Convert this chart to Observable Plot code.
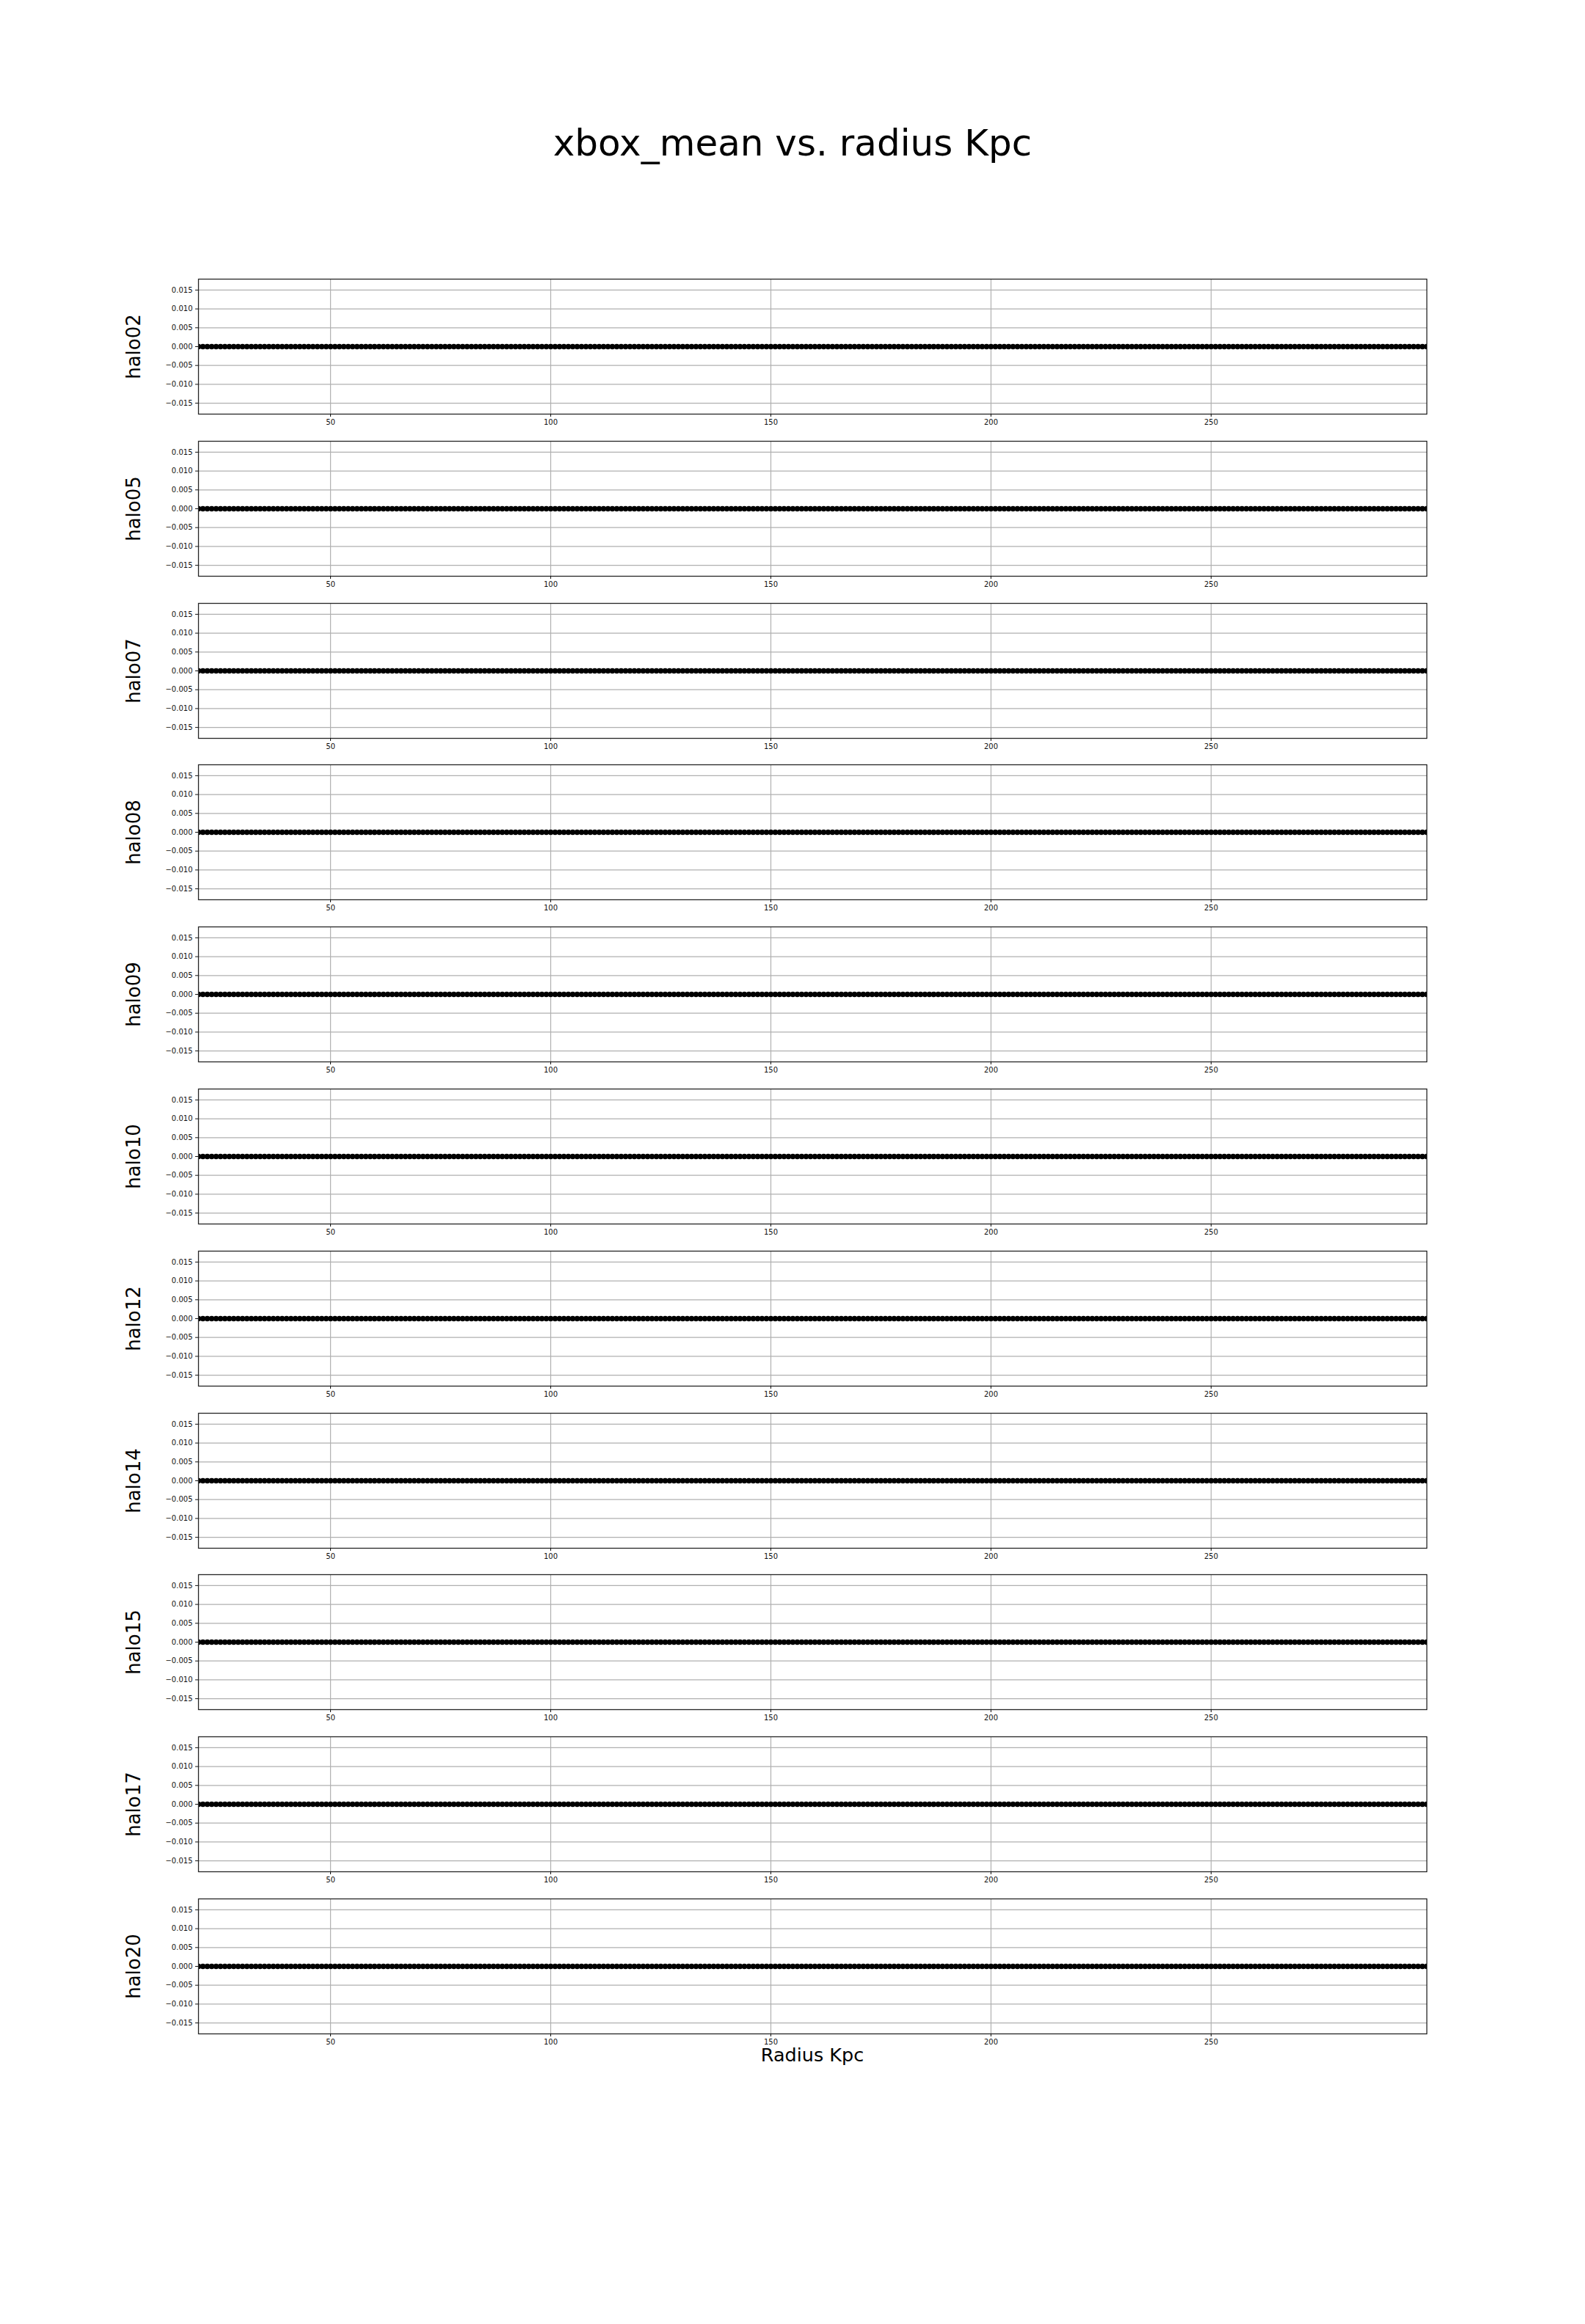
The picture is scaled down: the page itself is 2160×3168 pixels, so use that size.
<!DOCTYPE html>
<html>
<head>
<meta charset="utf-8">
<script src="https://cdn.jsdelivr.net/npm/d3@7"></script>
<script src="https://cdn.jsdelivr.net/npm/@observablehq/plot@0.6"></script>
<style>
  html, body { margin: 0; padding: 0; background: #ffffff; }
  #page { position: relative; width: 2160px; height: 3168px; background: #ffffff; font-family: "DejaVu Sans", sans-serif; color: #000; }
  .panel { position: absolute; left: 0; }
  #title { position: absolute; left: 0; width: 2160px; text-align: center; font-size: 50px; line-height: 50px; top: 170px; white-space: nowrap; }
  #xlabel { position: absolute; left: 270px; width: 1674px; text-align: center; font-size: 25.5px; line-height: 25.5px; top: 2789px; white-space: nowrap; }
</style>
</head>
<body>
<div id="page">
  <div id="title">xbox_mean vs. radius Kpc</div>
  <div id="xlabel">Radius Kpc</div>
</div>
<script>
// Halo names (one panel each)
const halos = ["halo02","halo05","halo07","halo08","halo09","halo10","halo12","halo14","halo15","halo17","halo20"];

// Radius (Kpc) sample positions
const radius = [
  20,21,22,23,24,25,26,27,28,29,
  30,31,32,33,34,35,36,37,38,39,
  40,41,42,43,44,45,46,47,48,49,
  50,51,52,53,54,55,56,57,58,59,
  60,61,62,63,64,65,66,67,68,69,
  70,71,72,73,74,75,76,77,78,79,
  80,81,82,83,84,85,86,87,88,89,
  90,91,92,93,94,95,96,97,98,99,
  100,101,102,103,104,105,106,107,108,109,
  110,111,112,113,114,115,116,117,118,119,
  120,121,122,123,124,125,126,127,128,129,
  130,131,132,133,134,135,136,137,138,139,
  140,141,142,143,144,145,146,147,148,149,
  150,151,152,153,154,155,156,157,158,159,
  160,161,162,163,164,165,166,167,168,169,
  170,171,172,173,174,175,176,177,178,179,
  180,181,182,183,184,185,186,187,188,189,
  190,191,192,193,194,195,196,197,198,199,
  200,201,202,203,204,205,206,207,208,209,
  210,211,212,213,214,215,216,217,218,219,
  220,221,222,223,224,225,226,227,228,229,
  230,231,232,233,234,235,236,237,238,239,
  240,241,242,243,244,245,246,247,248,249,
  250,251,252,253,254,255,256,257,258,259,
  260,261,262,263,264,265,266,267,268,269,
  270,271,272,273,274,275,276,277,278,279,
  280,281,282,283,284,285,286,287,288,289,
  290,291,292,293,294,295,296,297,298,299
];

// xbox_mean values (all panels show the same flat series at 0)
const xboxMean = [
  0,0,0,0,0,0,0,0,0,0, 0,0,0,0,0,0,0,0,0,0,
  0,0,0,0,0,0,0,0,0,0, 0,0,0,0,0,0,0,0,0,0,
  0,0,0,0,0,0,0,0,0,0, 0,0,0,0,0,0,0,0,0,0,
  0,0,0,0,0,0,0,0,0,0, 0,0,0,0,0,0,0,0,0,0,
  0,0,0,0,0,0,0,0,0,0, 0,0,0,0,0,0,0,0,0,0,
  0,0,0,0,0,0,0,0,0,0, 0,0,0,0,0,0,0,0,0,0,
  0,0,0,0,0,0,0,0,0,0, 0,0,0,0,0,0,0,0,0,0,
  0,0,0,0,0,0,0,0,0,0, 0,0,0,0,0,0,0,0,0,0,
  0,0,0,0,0,0,0,0,0,0, 0,0,0,0,0,0,0,0,0,0,
  0,0,0,0,0,0,0,0,0,0, 0,0,0,0,0,0,0,0,0,0,
  0,0,0,0,0,0,0,0,0,0, 0,0,0,0,0,0,0,0,0,0,
  0,0,0,0,0,0,0,0,0,0, 0,0,0,0,0,0,0,0,0,0,
  0,0,0,0,0,0,0,0,0,0, 0,0,0,0,0,0,0,0,0,0,
  0,0,0,0,0,0,0,0,0,0, 0,0,0,0,0,0,0,0,0,0
];

// Axis ticks
const xTicks = [50, 100, 150, 200, 250];
const yTicks = [-0.015, -0.010, -0.005, 0.000, 0.005, 0.010, 0.015];
const xDomain = [20, 299];
const yDomain = [-0.0179, 0.0179];

const page = document.getElementById("page");
const panelTop0 = 380, panelStep = 220.8, innerH = 184;
const mTop = 10, mBottom = 26, mLeft = 270, mRight = 216;
const fmtY = d3.format(".3f");

halos.forEach((halo, i) => {
  const data = radius.map((r, j) => ({r, v: xboxMean[j]}));
  const chart = Plot.plot({
    width: 2160,
    height: mTop + innerH + mBottom,
    marginTop: mTop, marginBottom: mBottom, marginLeft: mLeft, marginRight: mRight,
    style: {fontFamily: "DejaVu Sans, sans-serif", fontSize: "10px", background: "transparent", color: "#111111", overflow: "visible"},
    x: {domain: xDomain},
    y: {domain: yDomain},
    marks: [
      Plot.gridX(xTicks, {stroke: "#b0b0b0", strokeOpacity: 1, strokeWidth: 1.2}),
      Plot.gridY(yTicks, {stroke: "#b0b0b0", strokeOpacity: 1, strokeWidth: 1.2}),
      Plot.dot(data, {x: "r", y: "v", r: 3.8, fill: "#000000", stroke: "none", clip: true}),
      Plot.frame({stroke: "#262626", strokeWidth: 1.3}),
      Plot.axisX(xTicks, {tickFormat: d3.format("d"), tickSize: 4, tickPadding: 3, fontSize: 10, label: null}),
      Plot.axisY(yTicks, {tickFormat: fmtY, tickSize: 4, tickPadding: 4, fontSize: 10, label: null}),
      Plot.text([halo], {text: d => d, frameAnchor: "left", dx: -88, rotate: -90, fontSize: 26, textAnchor: "middle", fill: "#000000"})
    ]
  });
  chart.classList.add("panel");
  chart.style.top = (panelTop0 + i * panelStep - mTop) + "px";
  page.appendChild(chart);
});
</script>
</body>
</html>
